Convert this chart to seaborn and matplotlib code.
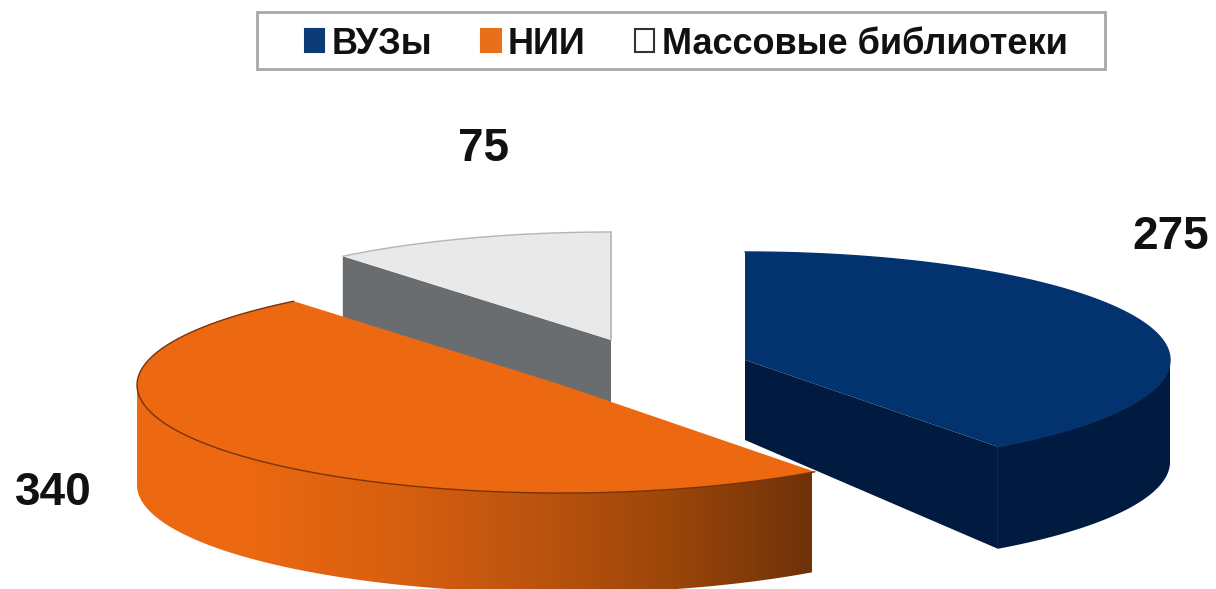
import numpy as np
import seaborn as sns
import matplotlib
matplotlib.use('Agg')
import matplotlib.pyplot as plt
from matplotlib.patches import Polygon, Rectangle

categories = ['ВУЗы', 'НИИ', 'Массовые библиотеки']
values = [275, 340, 75]

top_colors = ['#02336f', '#ec6811', '#e9e9e9']
edge_colors = ['#02336f', '#7a3208', '#b5b5b5']
wall_colors = ['#011a3f', '#ec6811', '#6a6d70']
legend_colors = ['#0b3a75', '#e8701a', '#ffffff']

# layout of the exploded slices, in pixels of the picture
centers_px = [(745, 360), (562, 385), (611, 340)]
depth_apex = [80, 100, 64]
depth_rim = [102, 100, 64]
label_px = [(1171, 237), (53, 493), (484, 149)]
RADIUS = 425
SQUASH = RADIUS / 108
W, H = 1216, 589

sns.set_theme(style='white')
plt.rcParams['font.family'] = ['Liberation Sans', 'DejaVu Sans']


def ypx(y):
    return (H - y) * SQUASH


def arc(wedge, depth=0, front=False):
    a, b = wedge.theta1, wedge.theta2
    if front:
        # only the part of the rim that faces the viewer
        a, b = max(a, -180), min(b, 0)
    t = np.radians(np.linspace(a, b, 120))
    cx, cy = wedge.center
    return np.column_stack([cx + RADIUS * np.cos(t),
                            cy + RADIUS * np.sin(t) - depth * SQUASH])


fig, ax = plt.subplots(figsize=(W / 100, H / 100), dpi=100)
fig.subplots_adjust(0, 0, 1, 1)

order = [2, 0, 1]
for i in order:
    colors = ['none'] * len(values)
    colors[i] = top_colors[i]
    center = (centers_px[i][0], ypx(centers_px[i][1]))
    wedges, _ = ax.pie(values, colors=colors, startangle=90, counterclock=False,
                       center=center, radius=RADIUS, wedgeprops={'linewidth': 0})
    w = wedges[i]
    z = 3 + order.index(i) * 3
    w.set_zorder(z)
    top = arc(w)
    cx, cy = w.center

    if i == 1:
        # front wall of the orange slice has a horizontal shade
        wall = np.vstack([arc(w, front=True), arc(w, depth_rim[i], front=True)[::-1]])
        clip = Polygon(wall, closed=True, transform=ax.transData, fc='none', ec='none')
        ax.add_patch(clip)
        cmap = sns.blend_palette(['#ec6811', '#d9600f', '#bd540f', '#9c460a', '#6f3209'], as_cmap=True)
        img = ax.imshow(np.linspace(0, 1, 256)[None, :], cmap=cmap, aspect='auto',
                        extent=(245, 812, ypx(H), ypx(250)), zorder=z - 1)
        img2 = ax.imshow(np.zeros((1, 2)), cmap=cmap, vmin=0, vmax=1, aspect='auto',
                         extent=(100, 245, ypx(H), ypx(250)), zorder=z - 1)
        img.set_clip_path(clip)
        img2.set_clip_path(clip)
    else:
        if i == 0:
            wall = np.vstack([arc(w, front=True), arc(w, depth_rim[i], front=True)[::-1]])
            ax.add_patch(Polygon(wall, closed=True, fc=wall_colors[i], ec='none', zorder=z - 1))
        # straight wall towards the viewer, from the apex out to the slice edge
        rim = arc(w, depth_rim[i])
        end = -1 if i == 2 else 0
        apex_low = (cx, cy - depth_apex[i] * SQUASH)
        ax.add_patch(Polygon([(cx, cy), top[end], rim[end], apex_low], closed=True,
                             fc=wall_colors[i], ec='none', zorder=z - 1))
    ax.plot(*top.T, color=edge_colors[i], lw=1, zorder=z + 1)
    if i == 2:
        ax.plot([cx, cx], [cy, cy + RADIUS], color=edge_colors[i], lw=1.2, zorder=z + 1)

for i, (x, y) in enumerate(label_px):
    ax.text(x, ypx(y), str(values[i]), ha='center', va='center', fontsize=33,
            fontweight='bold', color='#111111', zorder=30)

ax.set_aspect('auto')
ax.set_xlim(0, W)
ax.set_ylim(0, H * SQUASH)
ax.axis('off')

# legend box is wider than its entries, so it is drawn on its own
fig.add_artist(Rectangle((257 / W, 1 - 69 / H), (1105 - 257) / W, 57 / H, transform=fig.transFigure,
                         fc='white', ec='#a8a8a8', lw=2))
proxies = [plt.Rectangle((0, 0), 1, 1, fc=legend_colors[i],
                         ec='#333333' if i == 2 else legend_colors[i], lw=1.5)
           for i in range(3)]
leg = fig.legend(proxies, categories, ncol=3, loc='center',
                 bbox_to_anchor=(686 / W, 1 - 44 / H), frameon=False,
                 handlelength=0.55, handleheight=0.6, handletextpad=0.2,
                 columnspacing=1.35, labelcolor='#111111',
                 prop={'weight': 'bold', 'size': 26})
leg.set_zorder(40)

fig.savefig('out.png', dpi=100)
